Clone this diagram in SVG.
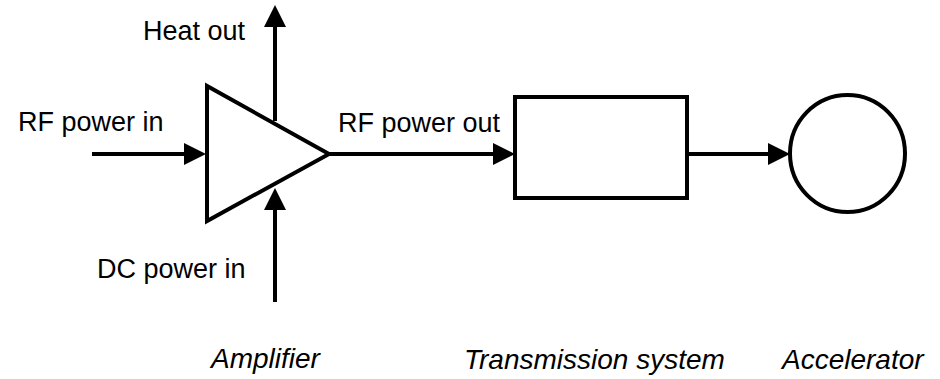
<svg xmlns="http://www.w3.org/2000/svg" width="940" height="379" viewBox="0 0 940 379">
  <style>
    .shape { fill: #ffffff; stroke: #000000; stroke-width: 4; }
    .conn { fill: none; stroke: #000000; stroke-width: 4; marker-end: url(#arrow); }
    .lbl { font-family: "Liberation Sans", Arial, sans-serif; font-size: 27px; fill: #000000; }
    .cap { font-family: "Liberation Sans", Arial, sans-serif; font-size: 28px; font-style: italic; fill: #000000; }
  </style>
  <defs>
    <marker id="arrow" markerUnits="userSpaceOnUse" markerWidth="22" markerHeight="22" refX="14" refY="11" orient="auto" viewBox="0 0 22 22">
      <path d="M0,0 L22,11 L0,22 z" fill="#000000"/>
    </marker>
  </defs>
  <rect width="940" height="379" fill="#ffffff"/>

  <g id="connectors">
    <line class="conn" x1="92" y1="154" x2="198" y2="154"/>
    <line class="conn" x1="275" y1="121" x2="275" y2="13"/>
    <line class="conn" x1="275" y1="302" x2="275" y2="196"/>
    <line class="conn" x1="329" y1="154" x2="507" y2="154"/>
    <line class="conn" x1="687" y1="154" x2="782" y2="154"/>
  </g>

  <g id="amplifier">
    <polygon class="shape" points="207,86 207,221 329,154"/>
    <text class="cap" x="211" y="368">Amplifier</text>
  </g>

  <g id="transmission-system">
    <rect class="shape" x="515" y="97" width="172" height="101"/>
    <text class="cap" x="464" y="369">Transmission system</text>
  </g>

  <g id="accelerator">
    <ellipse class="shape" cx="847.5" cy="153.5" rx="57.5" ry="58.5"/>
    <text class="cap" x="782" y="369">Accelerator</text>
  </g>

  <g id="labels">
    <text class="lbl" x="143" y="40">Heat out</text>
    <text class="lbl" x="18" y="131">RF power in</text>
    <text class="lbl" x="338" y="132">RF power out</text>
    <text class="lbl" x="97" y="278">DC power in</text>
  </g>
</svg>
